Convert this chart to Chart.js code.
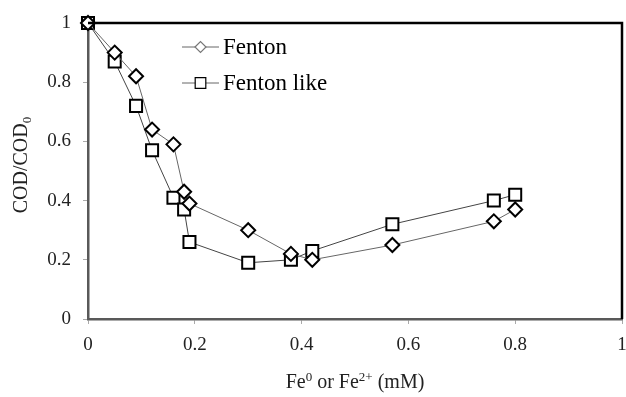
<!DOCTYPE html>
<html lang="en">
<head>
    <meta charset="UTF-8">
    <title>COD removal</title>
    <script src="https://cdn.jsdelivr.net/npm/chart.js"></script>
    <style>
        html, body { margin: 0; padding: 0; background: #fff; }
        #wrap { width: 626px; height: 397px; }
    </style>
</head>
<body>
    <div id="wrap"><canvas id="chart" width="626" height="397"></canvas></div>
    <script>
        // Fe dose (mM) and COD/COD0 readings
        var fentonX = [0, 0.05, 0.09, 0.12, 0.16, 0.18, 0.19, 0.30, 0.38, 0.42, 0.57, 0.76, 0.80];
        var fentonY = [1.00, 0.90, 0.82, 0.64, 0.59, 0.43, 0.39, 0.30, 0.22, 0.20, 0.25, 0.33, 0.37];
        var likeX = [0, 0.05, 0.09, 0.12, 0.16, 0.18, 0.19, 0.30, 0.38, 0.42, 0.57, 0.76, 0.80];
        var likeY = [1.00, 0.87, 0.72, 0.57, 0.41, 0.37, 0.26, 0.19, 0.20, 0.23, 0.32, 0.40, 0.42];
        var seriesNames = ['Fenton', 'Fenton like'];
        var xTicks = [0, 0.2, 0.4, 0.6, 0.8, 1];
        var yTicks = [0, 0.2, 0.4, 0.6, 0.8, 1];
        // axis titles as [text, mode] pieces: mode 0 normal, 1 superscript, -1 subscript
        var xTitle = [['Fe', 0], ['0', 1], [' or Fe', 0], ['2+', 1], [' (mM)', 0]];
        var yTitle = [['COD/COD', 0], ['0', -1]];

        function pts(xs, ys) {
            return xs.map(function(x, i) { return {x: x, y: ys[i]}; });
        }

        var serif = "'Liberation Serif', 'Times New Roman', serif";

        function drawRich(ctx, parts, cx, cy) {
            var big = '20px ' + serif, small = '13px ' + serif;
            var w = 0;
            parts.forEach(function(p) {
                ctx.font = p[1] ? small : big;
                w += ctx.measureText(p[0]).width;
            });
            var x = cx - w / 2;
            ctx.textAlign = 'left';
            ctx.textBaseline = 'alphabetic';
            parts.forEach(function(p) {
                ctx.font = p[1] ? small : big;
                var dy = p[1] === 1 ? -7 : (p[1] === -1 ? 4 : 0);
                ctx.fillText(p[0], x, cy + dy);
                x += ctx.measureText(p[0]).width;
            });
        }

        // legend with line + marker, black top/right frame, axis titles
        var extras = {
            id: 'extras',
            afterDraw: function(chart) {
                var ctx = chart.ctx;
                var a = chart.chartArea;
                ctx.save();
                ctx.strokeStyle = '#000';
                ctx.lineWidth = 2.5;
                ctx.beginPath();
                ctx.moveTo(a.left, a.top);
                ctx.lineTo(a.right, a.top);
                ctx.lineTo(a.right, a.bottom);
                ctx.stroke();

                var rows = [
                    {y: 47, style: 'rectRot', r: 5.5, color: '#777'},
                    {y: 83, style: 'rect', r: 7.5, color: '#000'}
                ];
                rows.forEach(function(row, i) {
                    ctx.strokeStyle = '#666';
                    ctx.lineWidth = 1;
                    ctx.beginPath();
                    ctx.moveTo(182, row.y);
                    ctx.lineTo(219, row.y);
                    ctx.stroke();
                    ctx.fillStyle = '#fff';
                    ctx.strokeStyle = row.color;
                    ctx.lineWidth = 1.2;
                    Chart.helpers.drawPoint(ctx, {pointStyle: row.style, radius: row.r, rotation: 0, borderWidth: 1.2}, 200.5, row.y);
                    ctx.fillStyle = '#000';
                    ctx.font = '23px ' + serif;
                    ctx.textBaseline = 'middle';
                    ctx.textAlign = 'left';
                    ctx.fillText(seriesNames[i], 223, row.y + 1);
                });

                ctx.fillStyle = '#222';
                drawRich(ctx, xTitle, (a.left + a.right) / 2, 388);
                ctx.save();
                ctx.translate(27, (a.top + a.bottom) / 2 - 6);
                ctx.rotate(-Math.PI / 2);
                drawRich(ctx, yTitle, 0, 0);
                ctx.restore();
                ctx.restore();
            }
        };

        var ctx = document.getElementById('chart').getContext('2d');
        var chart = new Chart(ctx, {
            type: 'scatter',
            data: {
                datasets: [{
                    label: seriesNames[0],
                    data: pts(fentonX, fentonY),
                    showLine: true,
                    borderColor: '#666',
                    borderWidth: 1,
                    pointStyle: 'rectRot',
                    pointRadius: 7,
                    pointBorderWidth: 2,
                    pointBorderColor: '#000',
                    pointBackgroundColor: '#fff',
                    clip: false
                }, {
                    label: seriesNames[1],
                    data: pts(likeX, likeY),
                    showLine: true,
                    borderColor: '#444',
                    borderWidth: 1,
                    pointStyle: 'rect',
                    pointRadius: 8.5,
                    pointBorderWidth: 2,
                    pointBorderColor: '#000',
                    pointBackgroundColor: '#fff',
                    clip: false
                }]
            },
            options: {
                responsive: false,
                animation: false,
                layout: { autoPadding: false, padding: { top: 23, right: 4, left: 0, bottom: 0 } },
                plugins: {
                    legend: { display: false },
                    tooltip: { enabled: false }
                },
                scales: {
                    x: {
                        type: 'linear',
                        min: 0, max: 1,
                        afterBuildTicks: function(s) { s.ticks = xTicks.map(function(v) { return {value: v}; }); },
                        afterFit: function(s) { s.height = 78; s.paddingLeft = 0; s.paddingRight = 0; },
                        border: { display: true, color: '#595959', width: 2.5 },
                        grid: { drawOnChartArea: false, drawTicks: true, tickLength: 5, color: '#aaa' },
                        ticks: {
                            color: '#222',
                            padding: 10,
                            maxRotation: 0,
                            font: { family: serif, size: 19 },
                            callback: function(v) { return String(+v.toFixed(1)); }
                        }
                    },
                    y: {
                        type: 'linear',
                        min: 0, max: 1,
                        afterBuildTicks: function(s) { s.ticks = yTicks.map(function(v) { return {value: v}; }); },
                        afterFit: function(s) { s.width = 88; s.paddingTop = 0; s.paddingBottom = 0; },
                        border: { display: true, color: '#595959', width: 2.5 },
                        grid: { drawOnChartArea: false, drawTicks: true, tickLength: 5, color: '#aaa' },
                        ticks: {
                            color: '#222',
                            padding: 12,
                            font: { family: serif, size: 19 },
                            callback: function(v) { return String(+v.toFixed(1)); }
                        }
                    }
                }
            },
            plugins: [extras]
        });
    </script>
</body>
</html>
